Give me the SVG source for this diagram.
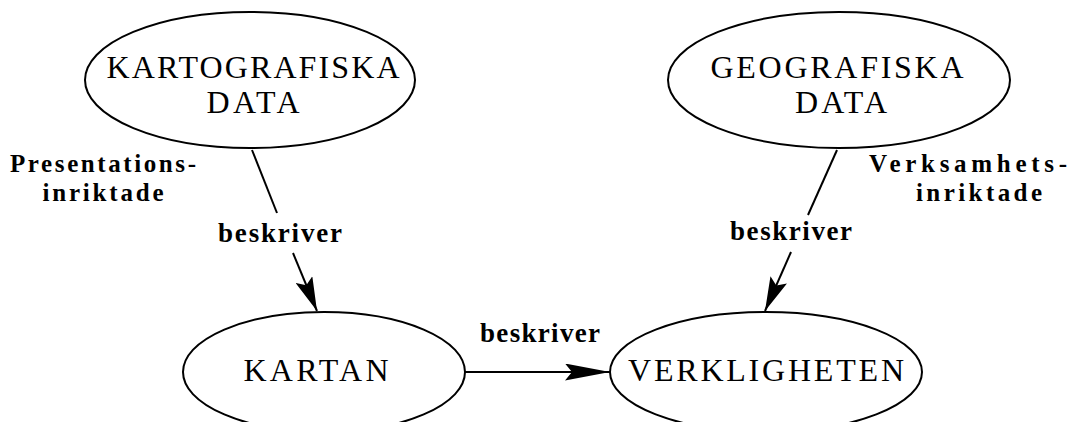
<svg xmlns="http://www.w3.org/2000/svg" width="1077" height="422" viewBox="0 0 1077 422">
  <style>
    .node { fill: #ffffff; stroke: #000000; stroke-width: 2; }
    .cap { font-family: "Liberation Serif", "Times New Roman", serif; font-size: 32px; fill: #000000; text-anchor: middle; }
    .lbl { font-family: "Liberation Serif", "Times New Roman", serif; font-size: 27px; font-weight: bold; fill: #000000; text-anchor: middle; }
    .side { font-family: "Liberation Serif", "Times New Roman", serif; font-size: 25px; font-weight: bold; fill: #000000; text-anchor: middle; }
    .edge { fill: none; stroke: #000000; stroke-width: 2; }
  </style>
  <defs>
    <marker id="head-diag" markerUnits="userSpaceOnUse" viewBox="0 0 34 18" markerWidth="34" markerHeight="18" refX="34" refY="9" orient="auto">
      <path d="M0,0 L34,9 L0,18 L6,9 Z" fill="#000000"/>
    </marker>
    <marker id="head-long" markerUnits="userSpaceOnUse" viewBox="0 0 45 17" markerWidth="45" markerHeight="17" refX="45" refY="8.5" orient="auto">
      <path d="M0,0 L45,8.5 L0,17 L7,8.5 Z" fill="#000000"/>
    </marker>
  </defs>
  <rect width="1077" height="422" fill="#ffffff"/>

  <!-- connectors -->
  <g id="connectors">
    <line class="edge" x1="252" y1="150" x2="277" y2="213"/>
    <line class="edge" x1="293" y1="253" x2="317" y2="311" marker-end="url(#head-diag)"/>
    <line class="edge" x1="837" y1="150" x2="808" y2="215"/>
    <line class="edge" x1="791" y1="252" x2="765" y2="311" marker-end="url(#head-diag)"/>
    <line class="edge" x1="465" y1="372" x2="610" y2="372" marker-end="url(#head-long)"/>
    <text class="lbl" x="280" y="242" textLength="124" lengthAdjust="spacing">beskriver</text>
    <text class="lbl" x="791" y="240" textLength="122" lengthAdjust="spacing">beskriver</text>
    <text class="lbl" x="540" y="342" textLength="120" lengthAdjust="spacing">beskriver</text>
  </g>

  <!-- nodes -->
  <g id="kartografiska-data">
    <ellipse class="node" cx="250" cy="80" rx="165" ry="68"/>
    <text class="cap" x="253" y="78" textLength="293" lengthAdjust="spacing">KARTOGRAFISKA</text>
    <text class="cap" x="253" y="113" textLength="93" lengthAdjust="spacing">DATA</text>
  </g>
  <g id="geografiska-data">
    <ellipse class="node" cx="839" cy="80" rx="171" ry="68"/>
    <text class="cap" x="837" y="78" textLength="253" lengthAdjust="spacing">GEOGRAFISKA</text>
    <text class="cap" x="841" y="113" textLength="92" lengthAdjust="spacing">DATA</text>
  </g>
  <g id="kartan">
    <ellipse class="node" cx="324" cy="372" rx="141" ry="60"/>
    <text class="cap" x="316" y="381" textLength="145" lengthAdjust="spacing">KARTAN</text>
  </g>
  <g id="verkligheten">
    <ellipse class="node" cx="766" cy="372" rx="156" ry="60"/>
    <text class="cap" x="766" y="381" textLength="276" lengthAdjust="spacing">VERKLIGHETEN</text>
  </g>

  <!-- side captions -->
  <g id="presentationsinriktade">
    <text class="side" x="103" y="172" textLength="186" lengthAdjust="spacing">Presentations-</text>
    <text class="side" x="103" y="201" textLength="121" lengthAdjust="spacing">inriktade</text>
  </g>
  <g id="verksamhetsinriktade">
    <text class="side" x="968" y="172" textLength="198" lengthAdjust="spacing">Verksamhets-</text>
    <text class="side" x="979" y="201" textLength="126" lengthAdjust="spacing">inriktade</text>
  </g>
</svg>
